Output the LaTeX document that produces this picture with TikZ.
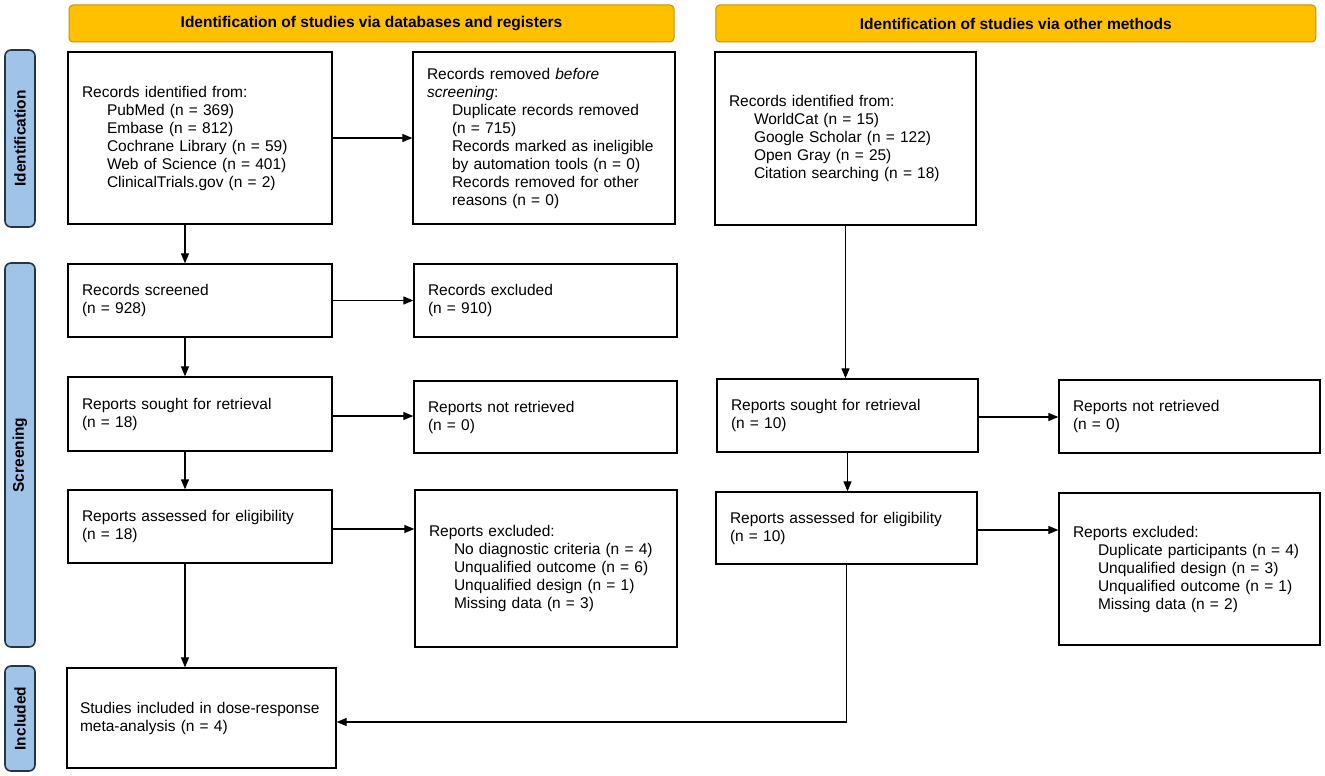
\documentclass[tikz,border=0pt]{standalone}
\usepackage{fontspec}
\setmainfont{Liberation Sans}
\usetikzlibrary{arrows.meta}
\newcommand\fs{\fontsize{15.5}{18}\selectfont}
\newcommand\fsb{\fontsize{15.5}{18}\selectfont\bfseries}
\newcommand\myind{\hspace*{25pt}}
\definecolor{hdrfill}{RGB}{255,192,0}
\definecolor{hdrline}{RGB}{196,148,0}
\definecolor{sidefill}{RGB}{160,196,231}
\definecolor{sideline}{RGB}{38,52,72}
\tikzset{
  box/.style={draw=black, line width=1.3pt, inner xsep=14pt, inner ysep=0pt, align=left, font=\fs},
  hdr/.style={draw=hdrline, fill=hdrfill, line width=1pt, rounded corners=4pt, font=\fsb, inner sep=0pt},
  side/.style={draw=sideline, fill=sidefill, line width=1.6pt, rounded corners=6pt, font=\fsb, rotate=90, inner sep=0pt},
  arr/.style={line width=1.1pt, -{Triangle[length=10pt,width=8pt]}},
  ln/.style={line width=1.1pt}
}
\begin{document}
\begin{tikzpicture}[x=1pt,y=-1pt]
\useasboundingbox (0,0) rectangle (1325,776);

% headers
\node[hdr, minimum width=605pt, minimum height=37pt] (h1) at (371.5,23.5) {Identification of studies via databases and registers};
\node[hdr, minimum width=600pt, minimum height=37pt] (h2) at (1015.75,23.5) {Identification of studies via other methods};

% side labels
\node[side, minimum width=177pt, minimum height=30pt] (s1) at (20,138.5) {Identification};
\node[side, minimum width=384pt, minimum height=30pt] (s2) at (20,455) {Screening};
\node[side, minimum width=105pt, minimum height=30pt] (s3) at (20,718.5) {Included};

% left column
\node[box, text width=236pt, minimum height=172pt] (A) at (200,138) {Records identified from:\\\myind PubMed (n = 369)\\\myind Embase (n = 812)\\\myind Cochrane Library (n = 59)\\\myind Web of Science (n = 401)\\\myind ClinicalTrials.gov (n = 2)};
\node[box, text width=234pt, minimum height=172pt] (B) at (544,138) {Records removed \textit{before}\\\textit{screening}:\\\myind Duplicate records removed\\\myind (n = 715)\\\myind Records marked as ineligible\\\myind by automation tools (n = 0)\\\myind Records removed for other\\\myind reasons (n = 0)};

\node[box, text width=236pt, minimum height=73pt] (C) at (200,300.5) {Records screened\\(n = 928)};
\node[box, text width=235pt, minimum height=73pt] (D) at (545.5,300.5) {Records excluded\\(n = 910)};

\node[box, text width=236pt, minimum height=74pt] (E) at (200,414) {Reports sought for retrieval\\(n = 18)};
\node[box, text width=235pt, minimum height=72pt] (F) at (545.5,417) {Reports not retrieved\\(n = 0)};

\node[box, text width=236pt, minimum height=73pt] (G) at (200,526.5) {Reports assessed for eligibility\\(n = 18)};
\node[box, text width=234pt, minimum height=157pt] (H) at (546,568.5) {Reports excluded:\\\myind No diagnostic criteria (n = 4)\\\myind Unqualified outcome (n = 6)\\\myind Unqualified design (n = 1)\\\myind Missing data (n = 3)};

\node[box, inner xsep=13pt, text width=243pt, minimum height=100pt] (I) at (201.5,718) {\mbox{Studies included in dose-response}\\meta-analysis (n = 4)};

% right column
\node[box, text width=233pt, minimum height=173pt] (J) at (845.5,138.5) {Records identified from:\\\myind WorldCat (n = 15)\\\myind Google Scholar (n = 122)\\\myind Open Gray (n = 25)\\\myind Citation searching (n = 18)};
\node[box, text width=233pt, minimum height=73pt] (K) at (847.5,415.5) {Reports sought for retrieval\\(n = 10)};
\node[box, text width=233pt, minimum height=73pt] (L) at (1189.5,416.5) {Reports not retrieved\\(n = 0)};
\node[box, text width=233pt, minimum height=72pt] (M) at (846.5,528) {Reports assessed for eligibility\\(n = 10)};
\node[box, text width=233pt, minimum height=152pt] (N) at (1189.5,569) {Reports excluded:\\\myind Duplicate participants (n = 4)\\\myind Unqualified design (n = 3)\\\myind Unqualified outcome (n = 1)\\\myind Missing data (n = 2)};

% connectors left
\draw[arr] (A.east) -- (A.east -| B.west);
\draw[arr] (C.east) -- (C.east -| D.west);
\draw[arr] ([yshift=-2pt]E.east) -- ([yshift=-2pt]E.east -| F.west);
\draw[arr] ([yshift=-2.5pt]G.east) -- ([yshift=-2.5pt]G.east -| H.west);
\draw[arr] ([xshift=-15pt]A.south) -- ([xshift=-15pt]C.north);
\draw[arr] ([xshift=-15pt]C.south) -- ([xshift=-15pt]E.north);
\draw[arr] ([xshift=-15pt]E.south) -- ([xshift=-15pt]G.north);
\draw[arr] ([xshift=-15pt]G.south) -- ([xshift=-15pt]G.south |- I.north);

% connectors right
\draw[arr] (J.south) -- (J.south |- K.north);
\draw[arr] ([yshift=-1.5pt]K.east) -- ([yshift=-1.5pt]K.east -| L.west);
\draw[arr] (K.south) -- (K.south |- M.north);
\draw[arr] ([yshift=-2pt]M.east) -- ([yshift=-2pt]M.east -| N.west);
\coordinate (mi) at ([yshift=-4pt]M.south |- I.east);
\draw[ln] (M.south) -- (mi);
\draw[arr] (mi) -- ([yshift=-4pt]I.east);
\end{tikzpicture}
\end{document}
